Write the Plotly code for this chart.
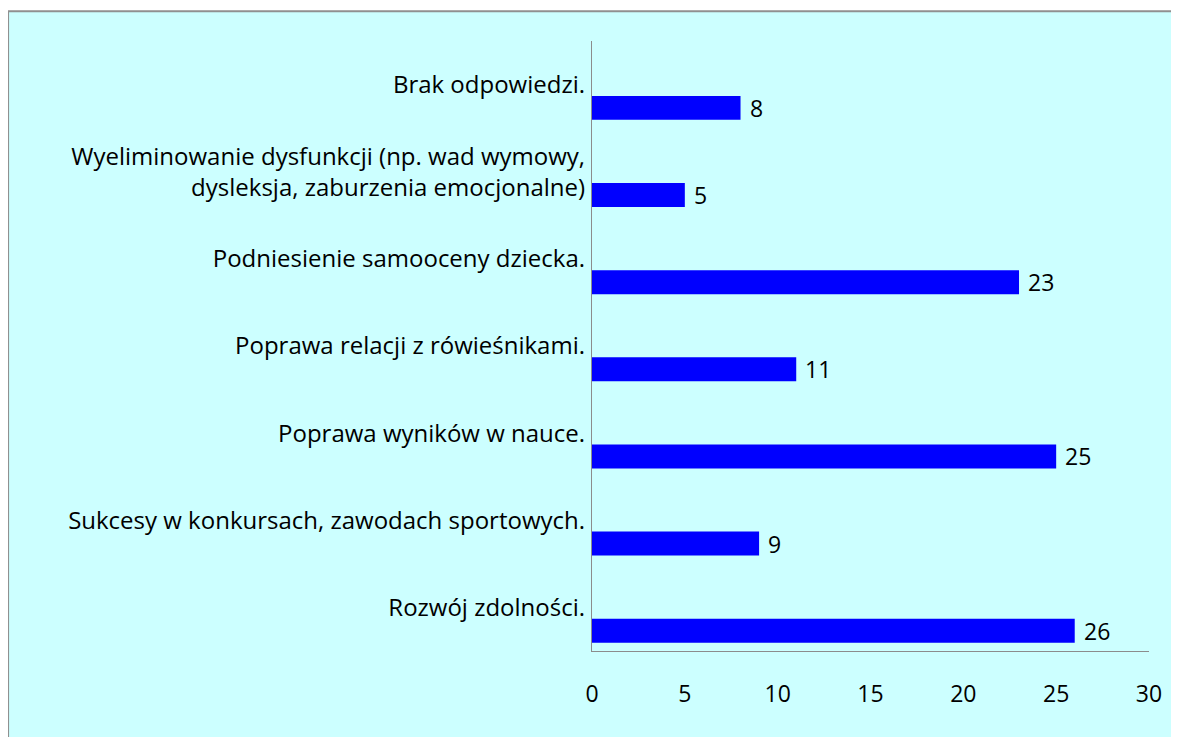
import plotly.graph_objects as go

categories = [
    "Brak odpowiedzi.",
    "Wyeliminowanie dysfunkcji (np. wad wymowy,<br>dysleksja, zaburzenia emocjonalne)",
    "Podniesienie samooceny dziecka.",
    "Poprawa relacji z rówieśnikami.",
    "Poprawa wyników w nauce.",
    "Sukcesy w konkursach, zawodach sportowych.",
    "Rozwój zdolności.",
]
values = [8, 5, 23, 11, 25, 9, 26]
x_ticks = [0, 5, 10, 15, 20, 25, 30]

W, H = 1179, 737
# plot area in figure pixels (page is offset by 8px body margin)
L, R, T, B = 584.3, 1140.7, 32.7, 643.3
FONT = "Open Sans"
FS = 23
BAR_OFFSET = 0.13
BAR_WIDTH = 0.275

fig = go.Figure()
fig.add_trace(go.Bar(
    x=values,
    y=categories,
    orientation="h",
    marker=dict(color="#0000FF", line=dict(width=0)),
    offset=BAR_OFFSET,
    width=BAR_WIDTH,
    hoverinfo="skip",
))

for i, v in enumerate(values):
    fig.add_annotation(
        x=v, y=i + BAR_OFFSET + BAR_WIDTH / 2,
        xref="x", yref="y",
        text=str(v), showarrow=False,
        xanchor="left", yanchor="middle", xshift=7,
        font=dict(family=FONT, size=FS, color="#000000"),
    )

def px_to_paper_x(px):
    return (px - L) / (R - L)

def px_to_paper_y(py):
    return (B - py) / (B - T)

fig.add_shape(
    type="rect", xref="paper", yref="paper", layer="below",
    x0=px_to_paper_x(1), x1=px_to_paper_x(W + 20),
    y0=px_to_paper_y(H + 20), y1=px_to_paper_y(3),
    fillcolor="#CCFFFF", line=dict(color="#909090", width=2),
)

fig.update_layout(
    width=W, height=H,
    margin=dict(l=L, r=W - R, t=T, b=H - B, pad=0),
    paper_bgcolor="#FFFFFF",
    plot_bgcolor="rgba(0,0,0,0)",
    showlegend=False,
    font=dict(family=FONT, size=FS, color="#000000"),
    xaxis=dict(
        range=[0, 30], tickvals=x_ticks, ticktext=[str(t) for t in x_ticks],
        showgrid=False, zeroline=False, showline=True,
        linecolor="#8C8C8C", linewidth=1.3, ticks="",
        ticklabelstandoff=22,
        tickfont=dict(family=FONT, size=FS, color="#000000"),
    ),
    yaxis=dict(
        categoryorder="array", categoryarray=categories,
        range=[6.5, -0.5],
        showgrid=False, zeroline=False, showline=True,
        linecolor="#8C8C8C", linewidth=1.3, ticks="",
        ticklabelstandoff=1,
        tickfont=dict(family=FONT, size=24, color="#000000"),
    ),
)

fig.write_html("out.html")
